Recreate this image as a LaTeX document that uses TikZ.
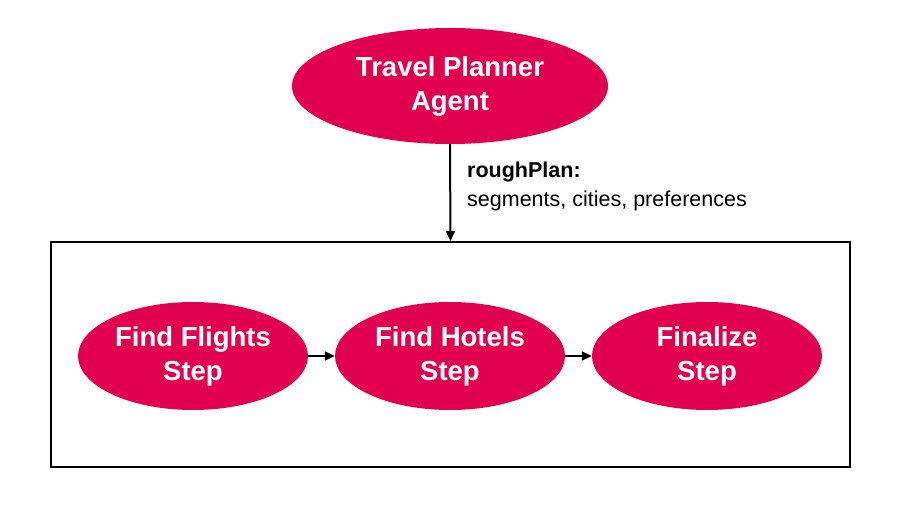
\documentclass[tikz,border=0pt]{standalone}
\usepackage{fontspec}
\setmainfont{Liberation Sans}
\usetikzlibrary{shapes.geometric,arrows.meta}
\definecolor{agentred}{RGB}{224,0,77}
\tikzset{
  agent/.style={ellipse, fill=agentred, draw=none, text=white, font=\fontsize{27.5}{34}\selectfont\bfseries, align=center, inner sep=0pt},
  conn/.style={draw=black, line width=2pt, -{Triangle[length=10pt,width=9pt]}},
}
\begin{document}
\begin{tikzpicture}[x=1pt,y=1pt]
\useasboundingbox (0,0) rectangle (900,504);
\fill[white] (0,0) rectangle (900,504);
\node[agent, minimum width=316pt, minimum height=116pt] (planner) at (450,418) {Travel Planner\\Agent};
\node[draw=black, line width=2pt, minimum width=799pt, minimum height=225pt, inner sep=0pt] (box) at (450.5,149.5) {};
\node[agent, minimum width=230pt, minimum height=108pt] (flights) at (193,148) {Find Flights\\Step};
\node[agent, minimum width=230pt, minimum height=108pt] (hotels) at (450,148) {Find Hotels\\Step};
\node[agent, minimum width=230pt, minimum height=108pt] (final) at (707,148) {Finalize\\Step};
\draw[conn] (planner.south) -- (box.north);
\node[anchor=north west, align=left, inner sep=0pt, font=\fontsize{21.5}{29}\selectfont] (label) at (467,342) {\textbf{roughPlan:}\\segments, cities, preferences};
\draw[conn] (flights.east) -- (hotels.west);
\draw[conn] (hotels.east) -- (final.west);
\end{tikzpicture}
\end{document}
